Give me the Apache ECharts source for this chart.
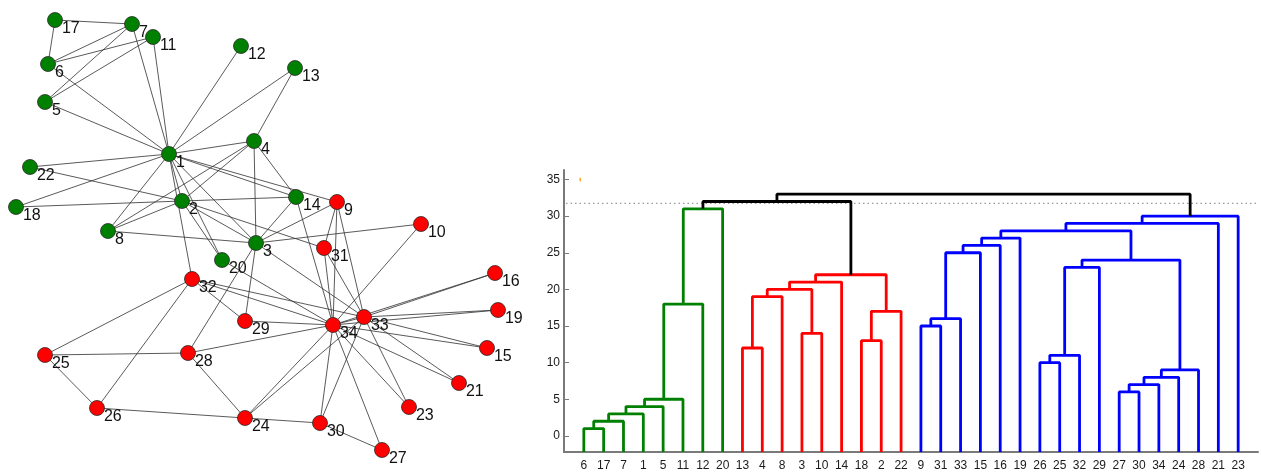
<!DOCTYPE html>
<html>
<head>
<meta charset="utf-8">
<script src="https://cdn.jsdelivr.net/npm/echarts@6/dist/echarts.min.js"></script>
<style>
html,body{margin:0;padding:0;background:#fff;}
#chart{width:1261px;height:472px;}
</style>
</head>
<body>
<div id="chart"></div>
<script>
// ---------- Network (Zachary karate club) ----------
// layout coordinates of nodes 1..34 (layout units)
const layoutX = [169,182,256,254,45,48,132,108,337,421,153,241,295,296,487,495,55,16,498,222,459,30,409,245,45,97,382,188,245,320,324,192,364,333];
const layoutY = [154,201,243,141,102,64,24,231,202,224,37,46,68,197,348,273,20,207,310,260,383,167,407,418,355,408,450,353,321,423,248,279,317,325];
// community of each node (0 = green, 1 = red)
const community = [0,0,0,0,0,0,0,0,1,1,0,0,0,0,1,1,0,0,1,0,1,0,1,1,1,1,1,1,1,1,1,1,1,1];
const edges = [
 [1,2],[1,3],[1,4],[1,5],[1,6],[1,7],[1,8],[1,9],[1,11],[1,12],[1,13],[1,14],[1,18],[1,20],[1,22],[1,32],
 [2,3],[2,4],[2,8],[2,14],[2,18],[2,20],[2,22],[2,31],
 [3,4],[3,8],[3,9],[3,10],[3,14],[3,28],[3,29],[3,33],
 [4,8],[4,13],[4,14],[5,7],[5,11],[6,7],[6,11],[6,17],[7,17],
 [9,31],[9,33],[9,34],[10,34],[14,34],[15,33],[15,34],[16,33],[16,34],
 [19,33],[19,34],[20,34],[21,33],[21,34],[23,33],[23,34],
 [24,26],[24,28],[24,30],[24,33],[24,34],[25,26],[25,28],[25,32],[26,32],
 [27,30],[27,34],[28,34],[29,32],[29,34],[30,33],[30,34],[31,33],[31,34],[32,33],[32,34],[33,34]
];

// ---------- Dendrogram ----------
const leafOrder = [6,17,7,1,5,11,12,20,13,4,8,3,10,14,18,2,22,9,31,33,15,16,19,26,25,32,29,27,30,34,24,28,21,23];
// linkage: [childA, childB, height]; ids 1..34 are leaves, 35+ are clusters in row order
const linkage = [
 [6,17,1],[35,7,2],[36,1,3],[37,5,4],[38,11,5],
 [27,30,6],[40,34,7],[41,24,8],[42,28,9],[26,25,10],[44,32,11],
 [13,4,12],[18,2,13],[3,10,14],[9,31,15],[49,33,16],[47,22,17],
 [39,12,18],[46,8,19],[53,48,20],[54,14,21],[55,51,22],
 [45,29,23],[57,43,24],[50,15,25],[59,16,26],[60,19,27],[61,58,28],
 [62,21,29],[63,23,30],[52,20,31],[65,56,32],[66,64,33]
];
const cutoff = [31.75];
const yTicks = [0,5,10,15,20,25,30,35];
const strayMark = [[0.82,34.75],[0.82,35.25]];

const clusterPalette = ['#008000','#ff0000','#0000ff'];
const nodePalette = ['#008000','#ff0000'];

// ----- build graph -----
const nodes = layoutX.map((x,i)=>({
  name: String(i+1),
  value: [x, layoutY[i]],
  itemStyle: {color: nodePalette[community[i]]}
}));
const links = edges.map(e=>({source:String(e[0]), target:String(e[1])}));

// ----- build dendrogram -----
const N = leafOrder.length;
const xPos = {}, hPos = {};
leafOrder.forEach((l,i)=>{ xPos[l] = i+1; hPos[l] = null; });
const children = {};
linkage.forEach((row,i)=>{
  const id = N+1+i;
  children[id] = [row[0], row[1]];
  xPos[id] = (xPos[row[0]] + xPos[row[1]])/2;
  hPos[id] = row[2];
});
const Y_MIN = -2.2;
const colorOf = {};
let paletteIdx = 0;
function assign(id, col){
  if (id <= N) return;
  const [a,b] = children[id];
  const ordered = xPos[a] <= xPos[b] ? [a,b] : [b,a];
  if (col === null && hPos[id] >= cutoff[0]) {
    colorOf[id] = '#000000';
    ordered.forEach(c=>assign(c,null));
  } else {
    if (col === null) { col = clusterPalette[paletteIdx++]; }
    colorOf[id] = col;
    ordered.forEach(c=>assign(c,col));
  }
}
assign(N + linkage.length, null);

const dendroSeries = linkage.map((row,i)=>{
  const id = N+1+i;
  const [a,b] = row;
  const ya = hPos[a] === null ? Y_MIN : hPos[a];
  const yb = hPos[b] === null ? Y_MIN : hPos[b];
  return {
    type:'line', xAxisIndex:0, yAxisIndex:0, symbol:'none', silent:true,
    lineStyle:{color:colorOf[id], width:2.8},
    data:[[xPos[a],ya],[xPos[a],row[2]],[xPos[b],row[2]],[xPos[b],yb]],
    z: 3
  };
});

const chart = echarts.init(document.getElementById('chart'), null, {renderer:'canvas'});
chart.setOption({
  animation:false,
  backgroundColor:'#ffffff',
  grid:[
    {left:564, top:170, width:710.5, height:283, containLabel:false},
    {left:0, top:0, width:1261, height:472, containLabel:false}
  ],
  xAxis:[
    {gridIndex:0, type:'value', min:0, max:35, interval:1,
     axisLine:{onZero:false, lineStyle:{color:'#7a7a7a', width:2}},
     axisTick:{show:false}, splitLine:{show:false},
     axisLabel:{margin:8, fontSize:12, color:'#1a1a1a', fontFamily:'Liberation Sans, Arial, sans-serif',
       formatter:(v)=> (v>=1 && v<=N) ? String(leafOrder[v-1]) : ''}},
    {gridIndex:1, type:'value', min:0, max:1261, show:false}
  ],
  yAxis:[
    {gridIndex:0, type:'value', min:Y_MIN, max:36.3,
     axisLine:{show:true, onZero:false, lineStyle:{color:'#7a7a7a', width:2}},
     axisTick:{show:true, inside:true, length:5, customValues:yTicks, lineStyle:{color:'#7a7a7a', width:1}},
     splitLine:{show:false},
     axisLabel:{customValues:yTicks, margin:4, fontSize:12, color:'#1a1a1a', fontFamily:'Liberation Sans, Arial, sans-serif'}},
    {gridIndex:1, type:'value', min:0, max:472, inverse:true, show:false}
  ],
  series:[
    {
      type:'graph', coordinateSystem:'cartesian2d', xAxisIndex:1, yAxisIndex:1,
      silent:true, symbolSize:15,
      itemStyle:{borderColor:'#2a2a2a', borderWidth:0.8},
      lineStyle:{color:'#333333', width:0.9, opacity:0.9, curveness:0},
      label:{show:true, position:'right', distance:-1, offset:[0,9], fontSize:16,
             color:'#111111', fontFamily:'Liberation Sans, Arial, sans-serif'},
      data:nodes, links:links, z:2
    },
    {
      type:'line', xAxisIndex:0, yAxisIndex:0, symbol:'none', silent:true,
      lineStyle:{color:'#9a9a9a', width:1.2, type:[1.5,3]},
      data:[[0.1,cutoff[0]],[35,cutoff[0]]], z:1
    },
    {
      type:'line', xAxisIndex:0, yAxisIndex:0, symbol:'none', silent:true,
      lineStyle:{color:'#f5a623', width:1.5},
      data:strayMark, z:1
    }
  ].concat(dendroSeries)
});
</script>
</body>
</html>
